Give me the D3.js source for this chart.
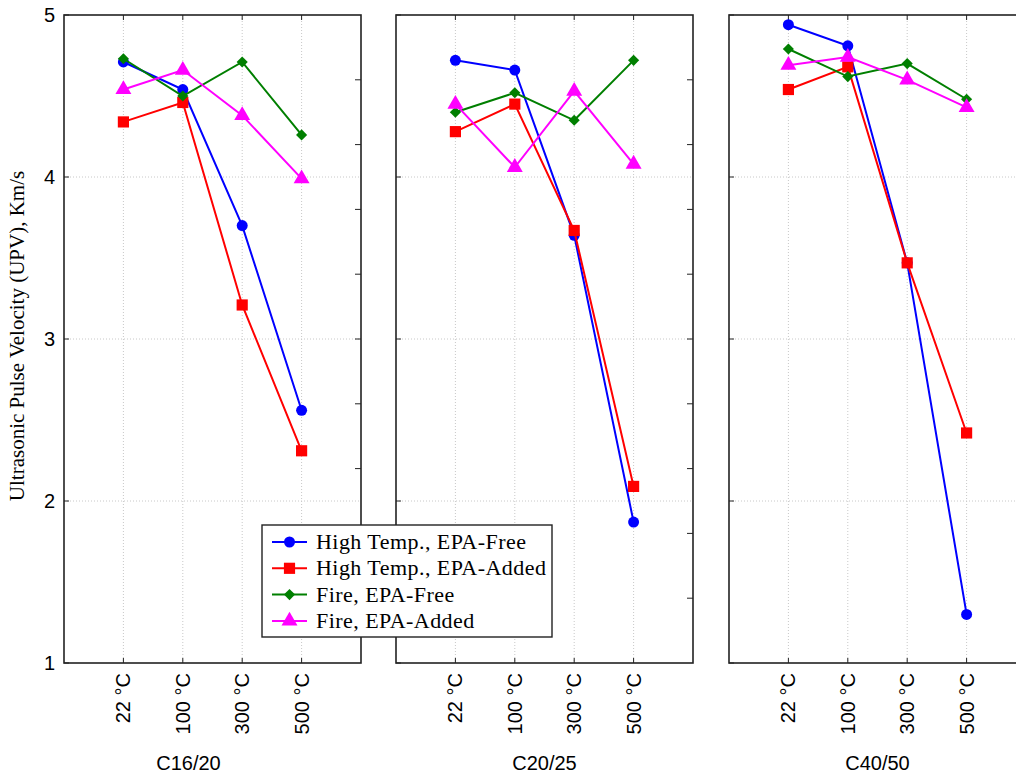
<!DOCTYPE html>
<html>
<head>
<meta charset="utf-8">
<script src="https://cdn.jsdelivr.net/npm/d3@7"></script>
<style>
  body { margin: 0; background: #fff; }
  svg { display: block; }
</style>
</head>
<body>
<div id="chart"></div>
<script>
"use strict"

// categories
var temps = ["22 °C", "100 °C", "300 °C", "500 °C"]
var panels = ["C16/20", "C20/25", "C40/50"]
var seriesNames = ["High Temp., EPA-Free", "High Temp., EPA-Added", "Fire, EPA-Free", "Fire, EPA-Added"]

// values per panel, one row per series
var htFree  = [[4.71, 4.54, 3.70, 2.56], [4.72, 4.66, 3.64, 1.87], [4.94, 4.81, 3.47, 1.30]]
var htAdded = [[4.34, 4.46, 3.21, 2.31], [4.28, 4.45, 3.67, 2.09], [4.54, 4.68, 3.47, 2.42]]
var fiFree  = [[4.73, 4.50, 4.71, 4.26], [4.40, 4.52, 4.35, 4.72], [4.79, 4.62, 4.70, 4.48]]
var fiAdded = [[4.54, 4.66, 4.38, 3.99], [4.45, 4.06, 4.53, 4.08], [4.69, 4.74, 4.60, 4.43]]

var yTicks = [1, 2, 3, 4, 5]
var yMinorTicks = [4.6, 4.2, 3.8, 3.4, 3.0, 2.6, 2.2, 1.8, 1.4]

var settings = {
    width: 1016,
    height: 776,
    top: 15,
    bottom: 663,
    panel_w: 297,
    panel_left: [64, 396, 729]
}

var styles = [
    { color: "#0000ff", symbol: d3.symbolCircle, size: 95, rot: 0 },
    { color: "#ff0000", symbol: d3.symbolSquare, size: 125, rot: 0 },
    { color: "#007f00", symbol: d3.symbolSquare, size: 62, rot: 45 },
    { color: "#ff00ff", symbol: d3.symbolTriangle, size: 110, rot: 0 }
]
var allSeries = [htFree, htAdded, fiFree, fiAdded]

var svg = d3.select("#chart").append("svg")
    .attr("width", settings.width)
    .attr("height", settings.height)

var y = d3.scaleLinear().domain([1, 5]).range([settings.bottom, settings.top])

var linefunc = d3.line()
    .x(function(d) { return d.x })
    .y(function(d) { return d.y })

panels.forEach(function(name, p) {
    var left = settings.panel_left[p]
    var w = settings.panel_w
    var x = d3.scalePoint().domain(temps).range([0, w]).padding(1)

    var g = svg.append("g").attr("transform", "translate(" + left + ",0)")

    // grid
    g.selectAll("line.gy")
        .data(yTicks.slice(1, 4))
        .enter().append("line")
        .attr("x1", 0).attr("x2", w)
        .attr("y1", function(d) { return y(d) }).attr("y2", function(d) { return y(d) })
        .attr("stroke", "#c8c8c8").attr("stroke-dasharray", "1,2")
    g.selectAll("line.gx")
        .data(temps)
        .enter().append("line")
        .attr("x1", function(d) { return x(d) }).attr("x2", function(d) { return x(d) })
        .attr("y1", settings.top).attr("y2", settings.bottom)
        .attr("stroke", "#c8c8c8").attr("stroke-dasharray", "1,2")

    // inward ticks
    g.selectAll("line.tl")
        .data(yTicks)
        .enter().append("line")
        .attr("x1", 0).attr("x2", 5)
        .attr("y1", function(d) { return y(d) }).attr("y2", function(d) { return y(d) })
        .attr("stroke", "#222")
    g.selectAll("line.tr")
        .data(yMinorTicks)
        .enter().append("line")
        .attr("x1", w - 6).attr("x2", w)
        .attr("y1", function(d) { return y(d) }).attr("y2", function(d) { return y(d) })
        .attr("stroke", "#222")
    g.selectAll("line.tb")
        .data(temps)
        .enter().append("line")
        .attr("x1", function(d) { return x(d) }).attr("x2", function(d) { return x(d) })
        .attr("y1", settings.bottom - 5).attr("y2", settings.bottom)
        .attr("stroke", "#222")
    g.selectAll("line.tt")
        .data(temps)
        .enter().append("line")
        .attr("x1", function(d) { return x(d) }).attr("x2", function(d) { return x(d) })
        .attr("y1", settings.top).attr("y2", settings.top + 5)
        .attr("stroke", "#222")

    // frame
    g.append("rect")
        .attr("x", 0).attr("y", settings.top)
        .attr("width", w).attr("height", settings.bottom - settings.top)
        .attr("fill", "none").attr("stroke", "#222").attr("stroke-width", 1.6)

    // series
    allSeries.forEach(function(series, s) {
        var data = series[p].map(function(v, i) { return { x: x(temps[i]), y: y(v) } })
        g.append("path")
            .attr("d", linefunc(data))
            .attr("fill", "none")
            .attr("stroke", styles[s].color)
            .attr("stroke-width", 2)
        g.selectAll("path.m" + s)
            .data(data)
            .enter().append("path")
            .attr("transform", function(d) { return "translate(" + d.x + "," + d.y + ") rotate(" + styles[s].rot + ")" })
            .attr("d", d3.symbol().type(styles[s].symbol).size(styles[s].size))
            .attr("fill", styles[s].color)
    })

    // x tick labels (rotated)
    g.selectAll("text.xl")
        .data(temps)
        .enter().append("text")
        .attr("transform", function(d) { return "translate(" + (x(d) + 7) + "," + (settings.bottom + 10) + ") rotate(-90)" })
        .attr("text-anchor", "end")
        .attr("font-family", "Liberation Sans, Arial, sans-serif")
        .attr("font-size", 20)
        .text(function(d) { return d })

    // panel label
    var cx = p === 0 ? (w - left + 16) / 2 : w / 2
    g.append("text")
        .attr("x", cx).attr("y", 770)
        .attr("text-anchor", "middle")
        .attr("font-family", "Liberation Sans, Arial, sans-serif")
        .attr("font-size", 20)
        .text(name)

    // y tick labels on first panel
    if (p === 0) {
        g.selectAll("text.yl")
            .data(yTicks)
            .enter().append("text")
            .attr("x", -9).attr("y", function(d) { return y(d) + 7 })
            .attr("text-anchor", "end")
            .attr("font-family", "Liberation Sans, Arial, sans-serif")
            .attr("font-size", 20)
            .text(function(d) { return d })
    }
})

// y axis title
svg.append("text")
    .attr("transform", "translate(24,336) rotate(-90)")
    .attr("text-anchor", "middle")
    .attr("font-family", "Liberation Serif, Times New Roman, serif")
    .attr("font-size", 21)
    .text("Ultrasonic Pulse Velocity (UPV), Km/s")

// legend
var legend = svg.append("g").attr("transform", "translate(262,525)")
legend.append("rect")
    .attr("width", 290).attr("height", 112)
    .attr("fill", "#fff").attr("stroke", "#222").attr("stroke-width", 1.4)

seriesNames.forEach(function(name, s) {
    var ly = 17 + s * 26.3
    legend.append("line")
        .attr("x1", 10).attr("x2", 45)
        .attr("y1", ly).attr("y2", ly)
        .attr("stroke", styles[s].color).attr("stroke-width", 2)
    legend.append("path")
        .attr("transform", "translate(27.5," + ly + ") rotate(" + styles[s].rot + ")")
        .attr("d", d3.symbol().type(styles[s].symbol).size(styles[s].size))
        .attr("fill", styles[s].color)
    legend.append("text")
        .attr("x", 54).attr("y", ly + 7)
        .attr("font-family", "Liberation Serif, Times New Roman, serif")
        .attr("font-size", 22)
        .attr("letter-spacing", 0.45)
        .text(name)
})
</script>
</body>
</html>
